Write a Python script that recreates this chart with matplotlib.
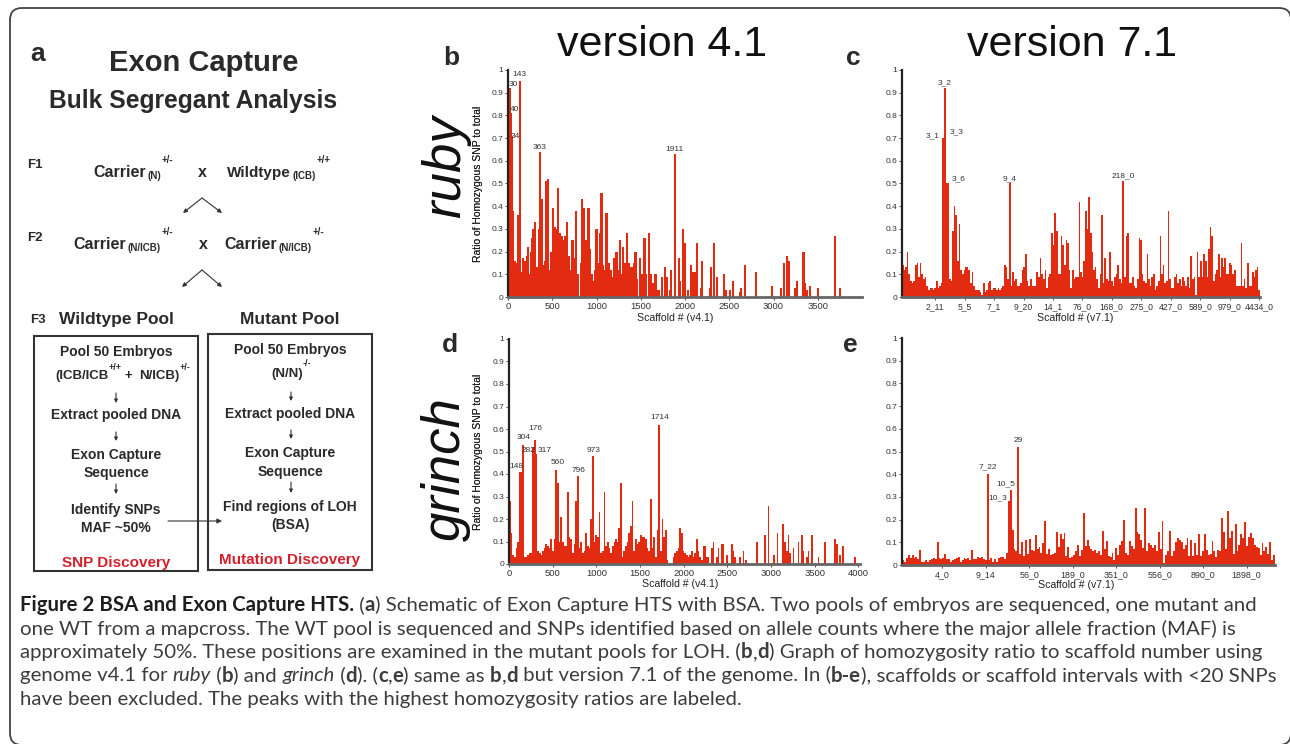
import numpy as np
import matplotlib
matplotlib.use('Agg')
import matplotlib.pyplot as plt
from matplotlib.patches import FancyBboxPatch, Rectangle

plt.rcParams['font.family'] = ['Liberation Sans', 'DejaVu Sans']

BAR = '#e32b12'
RED = '#d4202c'
INK = '#2a2a2a'
CAP_FONT = ['Lato', 'DejaVu Sans']

# ---- panel b: ruby, genome v4.1 (scaffold number, ratio) ----
b_pos = [5, 20, 35, 48, 60, 78, 95, 113, 125, 135, 162, 173, 192, 211, 226, 241, 256, 271, 286, 301,
         316, 331, 346, 357, 380, 399, 414, 429, 452, 474, 489, 511, 530, 549, 568, 587, 605, 624, 643, 654,
         669, 688, 707, 729, 744, 771, 793, 820, 838, 857, 872, 887, 910, 925, 948, 970, 985, 1000, 1023, 1038,
         1057, 1075, 1094, 1113, 1139, 1158, 1177, 1203, 1226, 1245, 1263, 1282, 1301, 1316, 1331, 1346, 1365,
         1384, 1402, 1421, 1440, 1459, 1489, 1515, 1542, 1564, 1590, 1617, 1639, 1666, 1700,
         1741, 1775, 1797, 1827, 1842, 1891, 1933, 1948, 1978, 1997, 2034, 2068, 2087, 2117, 2136, 2181, 2196,
         2279, 2297, 2324, 2361, 2436, 2467, 2512, 2542, 2624, 2636, 2681, 2801, 2982, 3083, 3121, 3151, 3173,
         3245, 3264, 3339, 3358, 3376, 3414, 3500, 3696, 3752]
b_val = [0.28, 0.92, 0.81, 0.71, 0.38, 0.16, 0.15, 0.36, 0.1, 0.95, 0.11, 0.17, 0.16, 0.18, 0.22, 0.1, 0.2, 0.26, 0.3, 0.33,
         0.1, 0.13, 0.3, 0.64, 0.43, 0.14, 0.16, 0.51, 0.52, 0.12, 0.2, 0.39, 0.31, 0.3, 0.48, 0.28, 0.27, 0.25, 0.27, 0.2,
         0.33, 0.18, 0.12, 0.25, 0.17, 0.38, 0.1, 0.15, 0.43, 0.39, 0.21, 0.25, 0.39, 0.21, 0.1, 0.07, 0.12, 0.3, 0.15, 0.28,
         0.46, 0.14, 0.12, 0.37, 0.15, 0.12, 0.09, 0.17, 0.2, 0.12, 0.25, 0.1, 0.22, 0.15, 0.13, 0.28, 0.15,
         0.13, 0.13, 0.15, 0.2, 0.08, 0.17, 0.1, 0.26, 0.1, 0.28, 0.1, 0.06, 0.1, 0.03,
         0.09, 0.13, 0.09, 0.03, 0.12, 0.63, 0.17, 0.07, 0.3, 0.24, 0.03, 0.14, 0.11, 0.11, 0.24, 0.04, 0.16,
         0.04, 0.13, 0.24, 0.09, 0.1, 0.03, 0.03, 0.07, 0.02, 0.04, 0.14, 0.11, 0.05, 0.04, 0.15, 0.18, 0.16,
         0.04, 0.07, 0.2, 0.06, 0.03, 0.05, 0.04, 0.27, 0.04]
b_peaks = ['30', '40', '34', '143', '363', '1911']

# ---- panel c: ruby, genome v7.1 (ordered scaffold intervals) ----
c_val = [0.14, 0.12, 0.13, 0.2, 0.1, 0.07, 0.06, 0.07, 0.14, 0.15, 0.09, 0.15, 0.1, 0.08, 0.09, 0.05, 0.03,
         0.04, 0.04, 0.03, 0.04, 0.07, 0.04, 0.05, 0.06,
         0.7, 0.92, 0.5, 0.5,
         0.08, 0.07, 0.29, 0.4, 0.36, 0.16, 0.32, 0.12, 0.1, 0.12, 0.13, 0.13, 0.12, 0.06, 0.11, 0.05, 0.03,
         0.03, 0.03, 0.02, 0.01, 0.06, 0.02, 0.03, 0.06, 0.07, 0.03, 0.04, 0.04, 0.03, 0.04, 0.03, 0.04, 0.05,
         0.14, 0.13, 0.08,
         0.5,
         0.05, 0.11, 0.07, 0.08, 0.05, 0.05, 0.06, 0.12, 0.13, 0.19, 0.07, 0.05, 0.08, 0.05, 0.05, 0.05, 0.11,
         0.09, 0.17, 0.1, 0.08, 0.12, 0.04, 0.09, 0.1, 0.28, 0.23, 0.37, 0.29, 0.1, 0.1, 0.27, 0.23, 0.14, 0.25,
         0.24, 0.12, 0.04, 0.12, 0.08, 0.09, 0.09, 0.42, 0.11, 0.09, 0.16, 0.38, 0.3, 0.44, 0.28, 0.2, 0.12,
         0.13, 0.08, 0.04, 0.1, 0.36, 0.06, 0.17, 0.08, 0.07, 0.2, 0.07, 0.05, 0.09, 0.1, 0.14, 0.08, 0.06,
         0.51,
         0.09, 0.27, 0.28, 0.06, 0.06, 0.09, 0.05, 0.04, 0.08, 0.26, 0.25, 0.1, 0.07, 0.06, 0.19, 0.08, 0.05,
         0.09, 0.1, 0.03, 0.05, 0.07, 0.27, 0.1, 0.14, 0.06, 0.07, 0.38, 0.08, 0.04, 0.04, 0.09, 0.1, 0.06,
         0.08, 0.05, 0.09, 0.07, 0.05, 0.09, 0.04, 0.18, 0.08, 0.09, 0.01, 0.2, 0.09, 0.16, 0.09, 0.19, 0.16,
         0.09, 0.21, 0.31, 0.27, 0.07, 0.1, 0.12, 0.19, 0.09, 0.17, 0.13, 0.17, 0.1, 0.1, 0.15, 0.14, 0.1, 0.12,
         0.05, 0.05, 0.05, 0.24, 0.05, 0.08, 0.04, 0.15, 0.05, 0.05, 0.11, 0.09, 0.12, 0.13, 0.03]
c_ticklabels = ['2_11', '5_5', '7_1', '9_20', '14_1', '76_0', '168_0', '275_0', '427_0', '589_0', '979_0', '4434_0']
c_peaks = ['3_1', '3_2', '3_3', '3_6', '9_4', '218_0']
c_peak_bar = [25, 26, 27, 28, 66, 136]

# ---- panel d: grinch, genome v4.1 ----
d_dense = [0.28, 0.14, 0.04, 0.03, 0.07, 0.1, 0.41, 0.41, 0.53, 0.03, 0.03, 0.04, 0.05, 0.05, 0.52, 0.55, 0.49,
           0.06, 0.05, 0.04, 0.06, 0.07, 0.09, 0.08, 0.07, 0.11, 0.06, 0.11, 0.42, 0.36, 0.1, 0.21, 0.1, 0.08,
           0.08, 0.32, 0.12, 0.11, 0.05, 0.09, 0.28, 0.39, 0.07, 0.1, 0.05, 0.06, 0.14, 0.08, 0.07, 0.2, 0.48,
           0.1, 0.13, 0.12, 0.23, 0.05, 0.06, 0.32, 0.08, 0.1, 0.07, 0.05, 0.08, 0.1, 0.11, 0.1, 0.16, 0.36,
           0.03, 0.06, 0.08, 0.1, 0.14, 0.17, 0.28, 0.06, 0.11, 0.09, 0.1, 0.13, 0.12, 0.12, 0.11, 0.07, 0.06,
           0.29, 0.07, 0.12, 0.03, 0.15, 0.62, 0.06, 0.2, 0.12, 0.15, 0.02]
d_pos = [1883, 1902, 1921, 1941, 1960, 1979, 1998, 2017, 2036, 2055, 2074, 2093, 2112, 2132, 2151, 2170, 2189,
         2208, 2227, 2246, 2265, 2284, 2323, 2342, 2380, 2399, 2437, 2456, 2494, 2552, 2571, 2590, 2647, 2685,
         2716, 2838, 2934, 2972, 3037, 3075, 3136, 3163, 3182, 3201, 3220, 3258, 3316, 3354, 3373, 3411, 3430,
         3469, 3545, 3621, 3736, 3755, 3793, 3824, 3965]
d_val = [0.03, 0.05, 0.06, 0.07, 0.16, 0.14, 0.06, 0.05, 0.04, 0.03, 0.04, 0.06, 0.03, 0.05, 0.11, 0.06, 0.03,
         0.02, 0.08, 0.08, 0.03, 0.03, 0.07, 0.1, 0.03, 0.07, 0.09, 0.09, 0.04, 0.09, 0.06, 0.03, 0.03, 0.06,
         0.02, 0.1, 0.13, 0.26, 0.04, 0.14, 0.18, 0.1, 0.06, 0.13, 0.05, 0.07, 0.1, 0.13, 0.06, 0.03, 0.06,
         0.13, 0.03, 0.1, 0.11, 0.09, 0.04, 0.08, 0.03]
d_peaks = ['148', '304', '176', '282', '317', '560', '796', '973', '1714']

# ---- panel e: grinch, genome v7.1 ----
e_val = [0.02, 0.015, 0.03, 0.045, 0.03, 0.045, 0.03, 0.035, 0.025, 0.065,
         0.015, 0.015, 0.02, 0.015, 0.02, 0.025, 0.03, 0.025, 0.1, 0.03,
         0.025, 0.03, 0.05, 0.025, 0.025, 0.015, 0.02, 0.025, 0.03, 0.035,
         0.015, 0.02, 0.03, 0.025, 0.03, 0.02, 0.065, 0.025, 0.025, 0.035,
         0.03, 0.035, 0.025, 0.02, 0.4, 0.02, 0.03, 0.015, 0.025, 0.015,
         0.03, 0.035, 0.035, 0.025, 0.055, 0.28, 0.33, 0.155, 0.07, 0.06,
         0.52, 0.05, 0.1, 0.04, 0.11, 0.05, 0.115, 0.065, 0.06, 0.13,
         0.07, 0.08, 0.055, 0.095, 0.195, 0.05, 0.07, 0.045, 0.05, 0.055,
         0.145, 0.08, 0.135, 0.115, 0.14, 0.04, 0.08, 0.03, 0.035, 0.045,
         0.06, 0.09, 0.04, 0.065, 0.23, 0.085, 0.11, 0.085, 0.07, 0.06,
         0.065, 0.055, 0.06, 0.045, 0.15, 0.07, 0.105, 0.04, 0.035, 0.055,
         0.02, 0.075, 0.045, 0.09, 0.105, 0.2, 0.055, 0.045, 0.105, 0.085,
         0.07, 0.25, 0.145, 0.135, 0.11, 0.075, 0.25, 0.06, 0.095, 0.09,
         0.075, 0.09, 0.06, 0.145, 0.07, 0.195, 0.01, 0.045, 0.06, 0.15,
         0.04, 0.06, 0.1, 0.12, 0.11, 0.1, 0.07, 0.09, 0.12, 0.04,
         0.11, 0.04, 0.095, 0.045, 0.135, 0.04, 0.06, 0.135, 0.065, 0.045,
         0.05, 0.105, 0.06, 0.035, 0.065, 0.06, 0.205, 0.145, 0.07, 0.24,
         0.12, 0.15, 0.05, 0.18, 0.06, 0.09, 0.135, 0.12, 0.19, 0.085,
         0.125, 0.14, 0.12, 0.09, 0.08, 0.075, 0.045, 0.095, 0.06, 0.08,
         0.05, 0.1, 0.02, 0.045]
e_ticklabels = ['4_0', '9_14', '56_0', '189_0', '351_0', '556_0', '890_0', '1898_0']
e_peaks = ['7_22', '10_3', '10_5', '29']
e_peak_bar = [44, 55, 56, 60]

# ---- caption ----
caption = [
    [('Figure 2 BSA and Exon Capture HTS.', 'B'), (' (', ''), ('a', 'b'),
     (') Schematic of Exon Capture HTS with BSA. Two pools of embryos are sequenced, one mutant and', '')],
    [('one WT from a mapcross. The WT pool is sequenced and SNPs identified based on allele counts where the major allele fraction (MAF) is', '')],
    [('approximately 50%. These positions are examined in the mutant pools for LOH. (', ''), ('b', 'b'), (',', ''),
     ('d', 'b'), (') Graph of homozygosity ratio to scaffold number using', '')],
    [('genome v4.1 for ', ''), ('ruby', 'i'), (' (', ''), ('b', 'b'), (') and ', ''), ('grinch', 'i'), (' (', ''),
     ('d', 'b'), ('). (', ''), ('c', 'b'), (',', ''), ('e', 'b'), (') same as ', ''), ('b', 'b'), (',', ''),
     ('d', 'b'), (' but version 7.1 of the genome. In (', ''), ('b-e', 'b'),
     ('), scaffolds or scaffold intervals with <20 SNPs', '')],
    [('have been excluded. The peaks with the highest homozygosity ratios are labeled.', '')],
]

fig = plt.figure(figsize=(12.9, 7.44), dpi=100)
bg = fig.add_axes([0, 0, 1, 1])
bg.set_xlim(0, 1290)
bg.set_ylim(744, 0)
bg.axis('off')
renderer = fig.canvas.get_renderer()

bg.add_patch(FancyBboxPatch((10, 8), 1281, 737, boxstyle='round,pad=0,rounding_size=12',
                            fill=False, ec='#444444', lw=1.3))


def txt(x, y, s, size, bold=True, ha='left', color=INK, **kw):
    return bg.text(x, y, s, fontsize=size, fontweight='bold' if bold else 'normal', ha=ha,
                   va='baseline', color=color, **kw)


def width_of(s, **kw):
    t1 = bg.text(0, 0, s + '|', **kw)
    t2 = bg.text(0, 0, '|', **kw)
    w = t1.get_window_extent(renderer).width - t2.get_window_extent(renderer).width
    t1.remove()
    t2.remove()
    return w


def chain(x, parts):
    # parts: (text, size, baseline y, gap after)
    for s, size, y, gap in parts:
        txt(x, y, s, size)
        x += width_of(s, fontsize=size, fontweight='bold') + gap


def arrow(x0, y0, x1, y1, ms=6):
    bg.annotate('', xy=(x1, y1), xytext=(x0, y0),
                arrowprops=dict(arrowstyle='-|>', color='#333333', lw=0.8, mutation_scale=ms,
                                shrinkA=0, shrinkB=0))


# ---- panel a: schematic ----
txt(30, 61, 'a', 19)
txt(204, 71, 'Exon Capture', 21, ha='center')
txt(193, 108, 'Bulk Segregant Analysis', 17.7, ha='center')

txt(27, 168, 'F1', 9.5)
chain(93, [('Carrier', 11.5, 177, 2), ('(N)', 7, 179, 0.5), ('+/-', 7, 163, 0)])
txt(198, 177, 'x', 11.5)
chain(227, [('Wildtype', 11, 177, 2), ('(ICB)', 7, 179, 0.5), ('+/+', 7, 163, 0)])
for sx in (183, 222):
    arrow(202, 198, sx, 213)

txt(27, 241, 'F2', 9.5)
chain(73, [('Carrier', 11.5, 249, 2), ('(N/ICB)', 7, 251, 0.5), ('+/-', 7, 235, 0)])
txt(199, 249, 'x', 11.5)
chain(224, [('Carrier', 11.5, 249, 2), ('(N/ICB)', 7, 251, 0.5), ('+/-', 7, 235, 0)])
for sx in (182, 222):
    arrow(202, 270, sx, 287)

txt(30, 323, 'F3', 9.5)
txt(116, 324, 'Wildtype Pool', 12.5, ha='center')
txt(290, 324, 'Mutant Pool', 12.5, ha='center')

bg.add_patch(Rectangle((34, 336), 164, 235, fill=False, ec='#333333', lw=1.5))
bg.add_patch(Rectangle((208, 334), 164, 236, fill=False, ec='#333333', lw=1.5))

txt(116, 356, 'Pool 50 Embryos', 10, ha='center')
chain(55, [('(ICB/ICB', 9.5, 379, 0), ('+/+', 6.5, 370, 3), ('+', 9.5, 379, 7), ('N/ICB)', 9.5, 379, 0),
           ('+/-', 6.5, 370, 0)])
arrow(116, 393, 116, 403, 5)
txt(116, 419, 'Extract pooled DNA', 10, ha='center')
arrow(116, 432, 116, 441, 5)
txt(116, 459, 'Exon Capture', 10, ha='center')
txt(116, 477, 'Sequence', 10, ha='center')
arrow(116, 484, 116, 494, 5)
txt(116, 514, 'Identify SNPs', 10, ha='center')
txt(116, 532, 'MAF ~50%', 10, ha='center')
txt(116, 567, 'SNP Discovery', 11, ha='center', color=RED)

txt(290, 354, 'Pool 50 Embryos', 10, ha='center')
chain(271, [('(N/N)', 9.5, 377, 0), ('-/-', 6.5, 366, 0)])
arrow(291, 392, 291, 401, 5)
txt(290, 418, 'Extract pooled DNA', 10, ha='center')
arrow(291, 430, 291, 439, 5)
txt(290, 457, 'Exon Capture', 10, ha='center')
txt(290, 476, 'Sequence', 10, ha='center')
arrow(291, 482, 291, 493, 5)
txt(290, 511, 'Find regions of LOH', 10, ha='center')
txt(290, 529, '(BSA)', 10, ha='center')
txt(290, 564, 'Mutation Discovery', 11, ha='center', color=RED)
arrow(168, 521, 222, 521, 7)

# ---- panel letters, titles, strain names ----
for s, x, y in [('b', 443, 65), ('c', 846, 65), ('d', 442, 352), ('e', 843, 352)]:
    txt(x, y, s, 19)
bg.text(662, 45, 'version 4.1', fontsize=31, ha='center', va='center', color='#111111')
bg.text(1072, 45, 'version 7.1', fontsize=31, ha='center', va='center', color='#111111')
bg.text(446, 167, 'ruby', fontsize=38, fontstyle='italic', rotation=90, ha='center', va='center', color='#111111')
bg.text(446, 469, 'grinch', fontsize=38, fontstyle='italic', rotation=90, ha='center', va='center', color='#111111')


# ---- bar panels ----
def panel(l, r, t, b):
    ax = fig.add_axes([l / 1290, (744 - b) / 744, (r - l) / 1290, (b - t) / 744])
    ax.patch.set_alpha(0)
    for side in ('top', 'right'):
        ax.spines[side].set_visible(False)
    ax.spines['left'].set_color('#222222')
    ax.spines['left'].set_linewidth(1.6)
    ax.spines['bottom'].set_color('#666666')
    ax.spines['bottom'].set_linewidth(2.0)
    ax.set_ylim(0, 1)
    yt = np.round(np.arange(0, 1.01, 0.1), 1)
    ax.set_yticks(yt)
    ax.set_yticklabels(['0' if v == 0 else '1' if v == 1 else f'{v:g}' for v in yt])
    ax.tick_params(axis='both', length=2, width=0.6, colors='#333333', pad=1.5)
    ax.tick_params(axis='y', labelsize=6)
    ax.tick_params(axis='x', labelsize=6.8)
    ax.set_ylabel('Ratio of Homozygous SNP to total', fontsize=7.5, color='#222222')
    ax.yaxis.set_label_coords((483 - l) / (r - l), 0.5)
    return ax


def xlab(ax, s, cx, top, l, r, t, b):
    ax.set_xlabel(s, fontsize=7.6, color='#222222')
    ax.xaxis.set_label_coords((cx - l) / (r - l), (b - top) / (b - t))


def peak_labels(ax, names, spots):
    for name, (x, y) in zip(names, spots):
        ax.text(x, y, name, fontsize=6, ha='center', va='center', color='#333333')


# b
axb = panel(508, 862, 70, 297)
axb.bar(b_pos, b_val, width=24, color=BAR, linewidth=0)
axb.set_xlim(0, 4000)
axb.set_xticks(np.arange(0, 3501, 500))
xlab(axb, 'Scaffold # (v4.1)', 675, 313, 508, 862, 70, 297)
peak_labels(axb, b_peaks, [(62, 0.934), (76, 0.824), (85, 0.709), (132, 0.982), (361, 0.66), (1880, 0.65)])

# c
axc = panel(902, 1260, 70, 297)
nc = len(c_val)
axc.bar(np.arange(nc), c_val, width=1.0, color=BAR, linewidth=0)
axc.set_xlim(-0.5, nc - 0.5)
axc.set_xticks(np.linspace(0.093, 0.997, len(c_ticklabels)) * nc - 0.5)
axc.set_xticklabels(c_ticklabels)
axc.tick_params(axis='x', labelsize=6.2)
xlab(axc, 'Scaffold # (v7.1)', 1075, 313, 902, 1260, 70, 297)
c_dx = [-6.5, 0, 6.5, 6.5, 0, 0]
c_dy = [0.01, 0.025, 0.23, 0.02, 0.02, 0.025]
peak_labels(axc, c_peaks, [(c_peak_bar[i] + c_dx[i], c_val[c_peak_bar[i]] + c_dy[i]) for i in range(len(c_peaks))])

# d
axd = panel(509, 860, 339, 564)
axd.bar(np.arange(len(d_dense)) * 19 + 9.5, d_dense, width=19, color=BAR, linewidth=0)
axd.bar(d_pos, d_val, width=20, color=BAR, linewidth=0)
axd.set_xlim(0, 4020)
axd.set_xticks(np.arange(0, 4001, 500))
xlab(axd, 'Scaffold # (v4.1)', 680, 579, 509, 860, 339, 564)
peak_labels(axd, d_peaks, [(88, 0.434), (172, 0.56), (306, 0.60), (222, 0.504), (405, 0.504),
                           (558, 0.449), (798, 0.415), (974, 0.505), (1730, 0.649)])

# e
axe = panel(902, 1275, 338, 565)
ne = len(e_val)
axe.bar(np.arange(ne), e_val, width=1.0, color=BAR, linewidth=0)
axe.set_xlim(-0.5, ne - 0.5)
axe.set_xticks(np.linspace(0.108, 0.924, len(e_ticklabels)) * ne - 0.5)
axe.set_xticklabels(e_ticklabels)
axe.tick_params(axis='x', labelsize=6.4)
xlab(axe, 'Scaffold # (v7.1)', 1076, 580, 902, 1275, 338, 565)
e_dx = [0, -5.7, -2.6, 0]
e_dy = [0.034, 0.014, 0.026, 0.03]
peak_labels(axe, e_peaks, [(e_peak_bar[i] + e_dx[i], e_val[e_peak_bar[i]] + e_dy[i]) for i in range(len(e_peaks))])


# ---- caption with mixed bold / italic runs ----
def run_kw(style, size):
    return dict(fontsize=size, family=CAP_FONT,
                fontweight='bold' if style in ('b', 'B') else 'normal',
                fontstyle='italic' if style == 'i' else 'normal',
                color='#1e1e1e' if style == 'B' else '#3c3c3c')


base = 12.0
w1 = sum(width_of(s, **run_kw(st, base)) for s, st in caption[0])
cap_size = base * 1235 / w1
for i, line in enumerate(caption):
    x = 20
    y = 611 + i * 23.5
    for s, st in line:
        kw = run_kw(st, cap_size)
        bg.text(x, y, s, va='baseline', ha='left', **kw)
        x += width_of(s, **kw)

fig.savefig('out.png', dpi=100)
